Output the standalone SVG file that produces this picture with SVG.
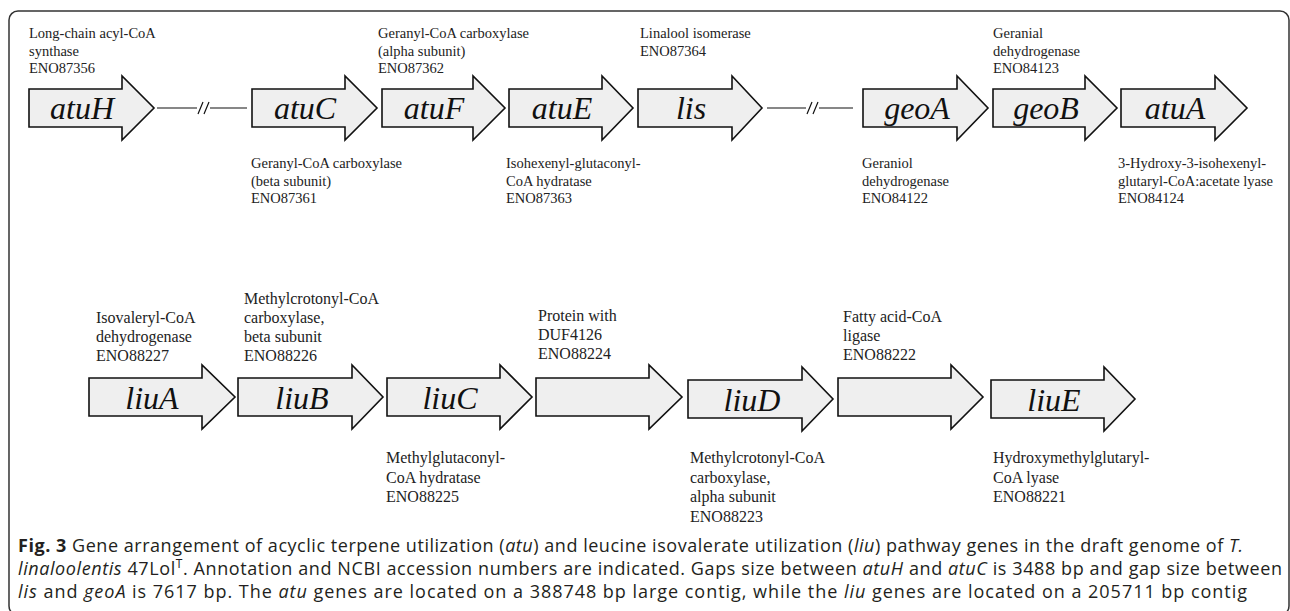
<svg xmlns="http://www.w3.org/2000/svg" width="1290" height="611" viewBox="0 0 1290 611">
<style>
.gene{fill:#efefef;stroke:#111;stroke-width:1.6;stroke-linejoin:miter}
.gname{font-family:"Liberation Serif","Times New Roman",serif;font-style:italic;font-size:32px;fill:#111;text-anchor:middle}
.lab{font-family:"Liberation Serif","Times New Roman",serif;font-size:14.5px;fill:#222}
.lab2{font-family:"Liberation Serif","Times New Roman",serif;font-size:16px;fill:#222}
.gap{stroke:#111;stroke-width:1.2;fill:none}
.cap{font-family:"Open Sans","Noto Sans",sans-serif;font-size:18px;fill:#231f20}
.i{font-style:italic}
.b{font-weight:bold}
</style>
<rect x="9" y="11" width="1280" height="604" rx="9" ry="9" fill="#fff" stroke="#333" stroke-width="1.5"/>

<g id="connectors">
<path class="gap" d="M157,108 H197 M210,108 H247 M767,108 H806 M819,108 H853"/>
<path class="gap" d="M198,114 L203,102 M204,114 L209,102 M807,114 L812,102 M813,114 L818,102"/>
</g>

<g id="atuH"><path class="gene" d="M29,89 H122 V76 L154,108 L122,140 V127 H29 Z"/><text class="gname" x="82" y="119">atuH</text>
<text class="lab" x="29" y="38">Long-chain acyl-CoA</text><text class="lab" x="29" y="55.5">synthase</text><text class="lab" x="29" y="73">ENO87356</text></g>
<g id="atuC"><path class="gene" d="M252,89 H345 V76 L377,108 L345,140 V127 H252 Z"/><text class="gname" x="305" y="119">atuC</text>
<text class="lab" x="251" y="168">Geranyl-CoA carboxylase</text><text class="lab" x="251" y="185.5">(beta subunit)</text><text class="lab" x="251" y="203">ENO87361</text></g>
<g id="atuF"><path class="gene" d="M382,89 H473 V76 L505,108 L473,140 V127 H382 Z"/><text class="gname" x="434" y="119">atuF</text>
<text class="lab" x="378" y="38">Geranyl-CoA carboxylase</text><text class="lab" x="378" y="55.5">(alpha subunit)</text><text class="lab" x="378" y="73">ENO87362</text></g>
<g id="atuE"><path class="gene" d="M509,89 H602 V76 L633,108 L602,140 V127 H509 Z"/><text class="gname" x="562" y="119">atuE</text>
<text class="lab" x="506" y="168">Isohexenyl-glutaconyl-</text><text class="lab" x="506" y="185.5">CoA hydratase</text><text class="lab" x="506" y="203">ENO87363</text></g>
<g id="lis"><path class="gene" d="M638,89 H732 V76 L762,108 L732,140 V127 H638 Z"/><text class="gname" x="691" y="119">lis</text>
<text class="lab" x="640" y="38">Linalool isomerase</text><text class="lab" x="640" y="55.5">ENO87364</text></g>
<g id="geoA"><path class="gene" d="M863,89 H957 V76 L988,108 L957,140 V127 H863 Z"/><text class="gname" x="917" y="119">geoA</text>
<text class="lab" x="862" y="168">Geraniol</text><text class="lab" x="862" y="185.5">dehydrogenase</text><text class="lab" x="862" y="203">ENO84122</text></g>
<g id="geoB"><path class="gene" d="M993,89 H1085 V76 L1117,108 L1085,140 V127 H993 Z"/><text class="gname" x="1046" y="119">geoB</text>
<text class="lab" x="993" y="38">Geranial</text><text class="lab" x="993" y="55.5">dehydrogenase</text><text class="lab" x="993" y="73">ENO84123</text></g>
<g id="atuA"><path class="gene" d="M1121,89 H1215 V76 L1247,108 L1215,140 V127 H1121 Z"/><text class="gname" x="1175" y="119">atuA</text>
<text class="lab" x="1118" y="168">3-Hydroxy-3-isohexenyl-</text><text class="lab" x="1118" y="185.5">glutaryl-CoA:acetate lyase</text><text class="lab" x="1118" y="203">ENO84124</text></g>

<g id="liuA"><path class="gene" d="M89,378 H202 V365 L235,397 L202,429 V416 H89 Z"/><text class="gname" x="152" y="409">liuA</text>
<text class="lab2" x="96" y="323">Isovaleryl-CoA</text><text class="lab2" x="96" y="342">dehydrogenase</text><text class="lab2" x="96" y="361">ENO88227</text></g>
<g id="liuB"><path class="gene" d="M238,378 H352 V365 L383,397 L352,429 V416 H238 Z"/><text class="gname" x="302" y="409">liuB</text>
<text class="lab2" x="244" y="304">Methylcrotonyl-CoA</text><text class="lab2" x="244" y="323">carboxylase,</text><text class="lab2" x="244" y="342">beta subunit</text><text class="lab2" x="244" y="361">ENO88226</text></g>
<g id="liuC"><path class="gene" d="M387,378 H500 V365 L532,397 L500,429 V416 H387 Z"/><text class="gname" x="450" y="409">liuC</text>
<text class="lab2" x="386" y="463">Methylglutaconyl-</text><text class="lab2" x="386" y="482.5">CoA hydratase</text><text class="lab2" x="386" y="502">ENO88225</text></g>
<g id="duf4126"><path class="gene" d="M536,378 H649 V365 L682,397 L649,429 V416 H536 Z"/>
<text class="lab2" x="538" y="321">Protein with</text><text class="lab2" x="538" y="340">DUF4126</text><text class="lab2" x="538" y="359">ENO88224</text></g>
<g id="liuD"><path class="gene" d="M688,380 H802 V367 L833,399 L802,431 V418 H688 Z"/><text class="gname" x="752" y="411">liuD</text>
<text class="lab2" x="690" y="463">Methylcrotonyl-CoA</text><text class="lab2" x="690" y="482.5">carboxylase,</text><text class="lab2" x="690" y="502">alpha subunit</text><text class="lab2" x="690" y="521.5">ENO88223</text></g>
<g id="fattyacid"><path class="gene" d="M838,378 H951 V365 L983,397 L951,429 V416 H838 Z"/>
<text class="lab2" x="843" y="322">Fatty acid-CoA</text><text class="lab2" x="843" y="341">ligase</text><text class="lab2" x="843" y="360">ENO88222</text></g>
<g id="liuE"><path class="gene" d="M991,380 H1104 V367 L1135,399 L1104,431 V418 H991 Z"/><text class="gname" x="1054" y="411">liuE</text>
<text class="lab2" x="993" y="463">Hydroxymethylglutaryl-</text><text class="lab2" x="993" y="482.5">CoA lyase</text><text class="lab2" x="993" y="502">ENO88221</text></g>

<g id="caption">
<text class="cap" x="18" y="552" textLength="1225" lengthAdjust="spacing"><tspan class="b">Fig. 3</tspan> Gene arrangement of acyclic terpene utilization (<tspan class="i">atu</tspan>) and leucine isovalerate utilization (<tspan class="i">liu</tspan>) pathway genes in the draft genome of <tspan class="i">T.</tspan></text>
<text class="cap" x="18" y="575" textLength="1264" lengthAdjust="spacing"><tspan class="i">linaloolentis</tspan> 47Lol<tspan font-size="12" dy="-7">T</tspan><tspan dy="7">. Annotation and NCBI accession numbers are indicated. Gaps size between </tspan><tspan class="i">atuH</tspan> and <tspan class="i">atuC</tspan> is 3488 bp and gap size between</text>
<text class="cap" x="18" y="598" textLength="1229" lengthAdjust="spacing"><tspan class="i">lis</tspan> and <tspan class="i">geoA</tspan> is 7617 bp. The <tspan class="i">atu</tspan> genes are located on a 388748 bp large contig, while the <tspan class="i">liu</tspan> genes are located on a 205711 bp contig</text>
</g>
</svg>
